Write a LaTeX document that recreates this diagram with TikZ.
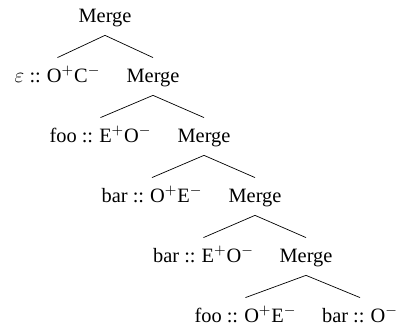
\documentclass[tikz,border=0pt]{standalone}
\usepackage{fontspec}
\setmainfont{Liberation Serif}
\usepackage{amsmath}
\usepackage{tikz}
\usetikzlibrary{positioning}
\tikzset{>=latex}
\tikzstyle{lbl} = [anchor = base, inner xsep = 0pt, inner ysep = 4.9pt, text height = 8.8pt, text depth = 2.5pt]
\newcommand{\hasfeat}{ ::\hspace{0.3em}}

\begin{document}
\begin{tikzpicture}
 \fontsize{11.6}{13.9}\selectfont
 \useasboundingbox (0, 0) rectangle (8.02, -6.58);
 \node [lbl] (M0) at (2.10, -0.44) {Merge};
 \node [lbl] (E1) at (1.15, -1.64) {$\varepsilon$\hasfeat O$^+$C$^-$};
 \node [lbl] (M1) at (3.06, -1.64) {Merge};
 \node [lbl] (F2) at (2.01, -2.84) {foo\hasfeat E$^+$O$^-$};
 \node [lbl] (M2) at (4.08, -2.84) {Merge};
 \node [lbl] (B3) at (3.04, -4.04) {bar\hasfeat O$^+$E$^-$};
 \node [lbl] (M3) at (5.10, -4.04) {Merge};
 \node [lbl] (B4) at (4.07, -5.24) {bar\hasfeat E$^+$O$^-$};
 \node [lbl] (M4) at (6.12, -5.24) {Merge};
 \node [lbl] (F5) at (4.91, -6.44) {foo\hasfeat O$^+$E$^-$};
 \node [lbl] (B5) at (7.20, -6.44) {bar\hasfeat O$^-$};
 \draw [-, draw = black] (M0.south) to (E1.north);
 \draw [-, draw = black] (M0.south) to (M1.north);
 \draw [-, draw = black] (M1.south) to (F2.north);
 \draw [-, draw = black] (M1.south) to (M2.north);
 \draw [-, draw = black] (M2.south) to (B3.north);
 \draw [-, draw = black] (M2.south) to (M3.north);
 \draw [-, draw = black] (M3.south) to (B4.north);
 \draw [-, draw = black] (M3.south) to (M4.north);
 \draw [-, draw = black] (M4.south) to (F5.north);
 \draw [-, draw = black] (M4.south) to (B5.north);
\end{tikzpicture}
\end{document}
